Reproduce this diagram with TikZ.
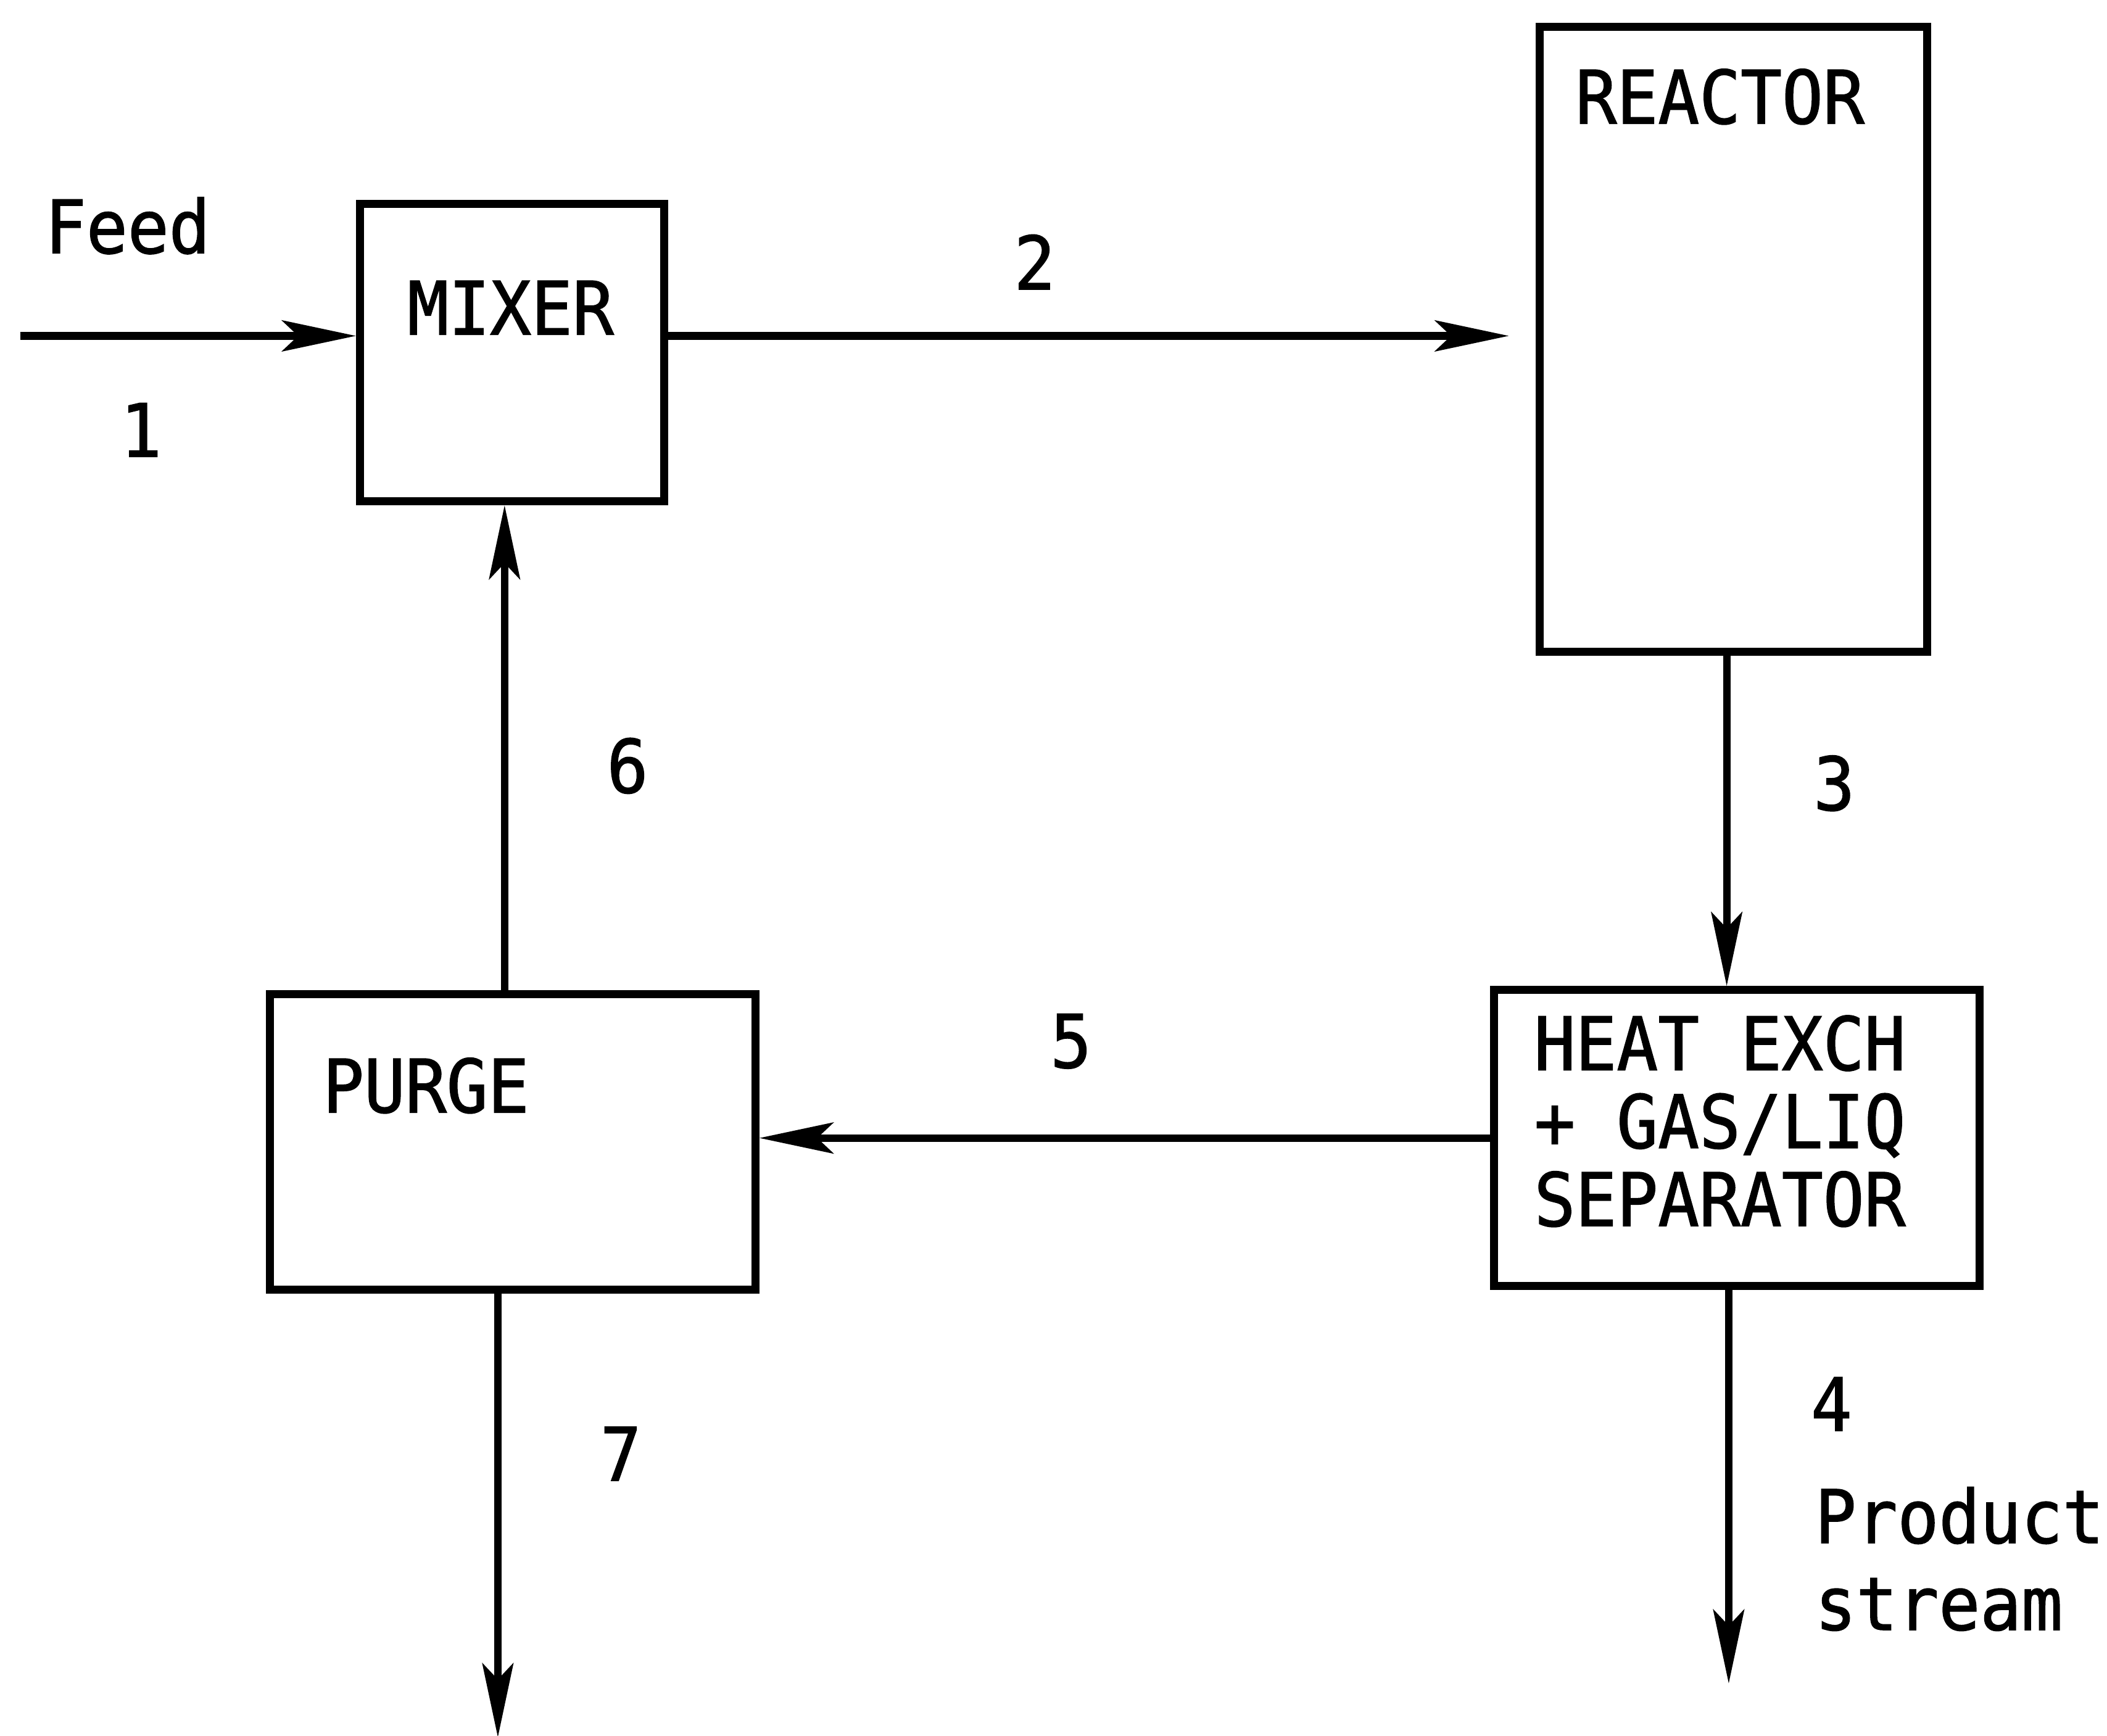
\documentclass[tikz,border=0pt]{standalone}
\usepackage{fontspec}
\newfontfamily\tw[FakeStretch=0.93,FakeBold=1.3]{DejaVu Sans Mono}
\usetikzlibrary{arrows.meta,calc}
\begin{document}
\begin{tikzpicture}[x=0.01cm,y=-0.01cm,
  box/.style={draw, line width=1.7pt, inner sep=0pt},
  flow/.style={line width=1.6pt, -{Stealth[length=5.5mm,width=2.3mm,inset=1.2mm]}},
  txt/.style={font=\tw\fontsize{15.6}{16.5}\selectfont, inner sep=0pt},
  txtb/.style={font=\tw\fontsize{15.6}{18.4}\selectfont, inner sep=0pt}]
\useasboundingbox (0,0) rectangle (1568,1292);

% boxes
\node[box, minimum width=2.26cm, minimum height=2.21cm] (mixer) at (381,262.5) {};
\node[box, minimum width=2.88cm, minimum height=4.65cm] (reactor) at (1290,252.5) {};
\node[box, minimum width=3.61cm, minimum height=2.20cm] (hx) at (1292.5,847) {};
\node[box, minimum width=3.61cm, minimum height=2.20cm] (purge) at (381.5,850) {};

% box texts
\node[txt] (tmixer) at (380,229) {MIXER};
\node[txt] (treactor) at (1280,72) {REACTOR};
\node[txt] (tpurge) at (317,808) {PURGE};
\node[txt, anchor=north west, align=left] (thx) at (1141,755) {HEAT EXCH\\+ GAS/LIQ\\SEPARATOR};

% stream labels
\node[txt] (tfeed) at (95,168) {Feed};
\node[txt] (n1) at (105,320) {1};
\node[txt] (n2) at (770,195) {2};
\node[txt] (n3) at (1365,583) {3};
\node[txt] (n4) at (1363,1045) {4};
\node[txt] (n5) at (797,775) {5};
\node[txt] (n6) at (467,570) {6};
\node[txt] (n7) at (462,1082) {7};
\node[txtb, anchor=north west, align=left] (tprod) at (1350,1106) {Product\\stream};

% connectors
\coordinate (feedin) at (15,250);
\draw[flow] (feedin) -- (feedin -| mixer.west);
\draw[flow] (feedin -| mixer.east) -- ($(feedin -| reactor.west)+(-20,0)$);
\coordinate (r3) at ($(reactor.south)+(-5,0)$);
\draw[flow] (r3) -- (r3 |- hx.north);
\draw[flow] (hx.west) -- (hx.west -| purge.east);
\coordinate (p6) at ($(purge.north)+(-6,0)$);
\draw[flow] (p6) -- (p6 |- mixer.south);
\coordinate (p7) at ($(purge.south)+(-11,0)$);
\coordinate (out7) at ($(p7)+(0,330)$);
\draw[flow] (p7) -- (out7);
\coordinate (h4) at ($(hx.south)+(-6,0)$);
\coordinate (out4) at ($(h4)+(0,293)$);
\draw[flow] (h4) -- (out4);
\end{tikzpicture}
\end{document}
